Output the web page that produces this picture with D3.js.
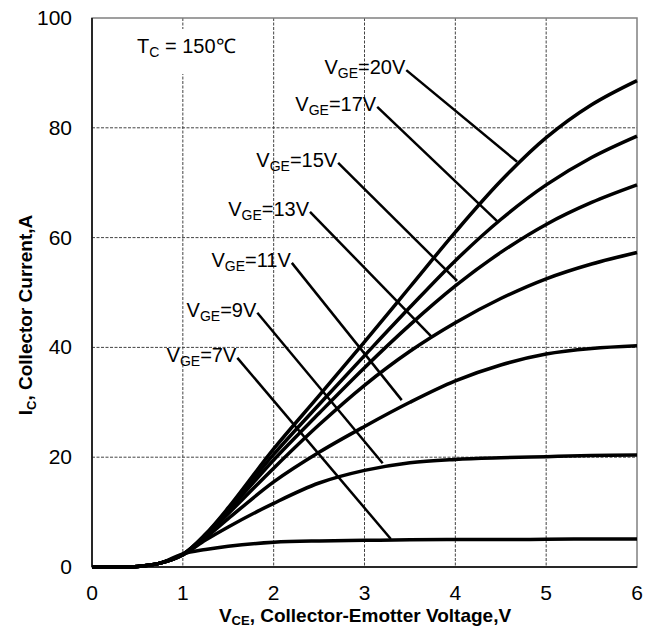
<!DOCTYPE html>
<html>
<head>
<meta charset="utf-8">
<script src="https://cdn.jsdelivr.net/npm/d3@7"></script>
<style>
  body { margin: 0; background: #fff; }
  text { font-family: "Liberation Sans", Arial, sans-serif; fill: #000; }
</style>
</head>
<body>
<svg id="chart" width="660" height="629"></svg>
<script>
// V_CE sample points (V)
var vce = [0, 0.25, 0.5, 0.75, 1, 1.25, 1.5, 2, 2.5, 3, 3.5, 4, 4.5, 5, 5.5, 6]

// I_C (A), one array per gate voltage
var ic20 = [0, 0, 0.1, 0.7, 2.3, 6.0, 10.8, 21.5, 31.2, 41, 51, 61, 70.3, 78.2, 84.2, 88.6]
var ic17 = [0, 0, 0.1, 0.7, 2.3, 5.9, 10.5, 20.5, 29.6, 38.5, 47.3, 55.8, 63.3, 69.6, 74.6, 78.5]
var ic15 = [0, 0, 0.1, 0.7, 2.3, 5.8, 10.2, 19.5, 28, 36.3, 44.1, 51.2, 57.3, 62.4, 66.4, 69.6]
var ic13 = [0, 0, 0.1, 0.7, 2.3, 5.6, 9.7, 18, 25.9, 33.1, 39.3, 44.5, 48.9, 52.5, 55.2, 57.3]
var ic11 = [0, 0, 0.1, 0.7, 2.2, 5.3, 8.8, 15.5, 20.9, 25.6, 30, 33.9, 36.8, 38.8, 39.8, 40.3]
var ic9  = [0, 0, 0.1, 0.7, 2.2, 4.9, 7.3, 11.6, 15.3, 17.6, 19.0, 19.6, 19.9, 20.1, 20.3, 20.4]
var ic7  = [0, 0, 0.1, 0.7, 2.4, 3.2, 3.8, 4.5, 4.75, 4.85, 4.95, 5.0, 5.0, 5.05, 5.1, 5.1]

var vgeLabels = ["20V", "17V", "15V", "13V", "11V", "9V", "7V"]
var seriesList = [ic20, ic17, ic15, ic13, ic11, ic9, ic7]

// leader lines: label end -> point on curve, in (V, A)
var leaderFrom = [[3.46, 90.5], [3.14, 83.8], [2.71, 73.6], [2.40, 64.7], [2.20, 55.4], [1.82, 46.3], [1.60, 38.1]]
var leaderTo   = [[4.68, 73.8], [4.46, 63.0], [4.02, 52.1], [3.74, 41.9], [3.41, 30.4], [3.20, 18.9], [3.29, 5.1]]

var xTicks = [0, 1, 2, 3, 4, 5, 6]
var yTicks = [0, 20, 40, 60, 80, 100]

var svg = d3.select("#chart")

var x = d3.scaleLinear()
    .domain([0, 6])
    .range([92, 637])

var y = d3.scaleLinear()
    .domain([0, 100])
    .range([567, 18])

// grid
svg.append("g")
    .selectAll("line")
    .data(xTicks.slice(1, -1))
    .enter()
    .append("line")
    .attr("x1", function(d){ return x(d) })
    .attr("x2", function(d){ return x(d) })
    .attr("y1", y(100))
    .attr("y2", y(0))
    .attr("stroke", "#444")
    .attr("stroke-width", 1)
    .attr("stroke-dasharray", "3,1.5")

svg.append("g")
    .selectAll("line")
    .data(yTicks.slice(1, -1))
    .enter()
    .append("line")
    .attr("x1", x(0))
    .attr("x2", x(6))
    .attr("y1", function(d){ return y(d) })
    .attr("y2", function(d){ return y(d) })
    .attr("stroke", "#444")
    .attr("stroke-width", 1)
    .attr("stroke-dasharray", "3,1.5")

// frame
svg.append("rect")
    .attr("x", x(0))
    .attr("y", y(100))
    .attr("width", x(6) - x(0))
    .attr("height", y(0) - y(100))
    .attr("fill", "none")
    .attr("stroke", "#808080")
    .attr("stroke-width", 1.5)

svg.append("line")
    .attr("x1", x(0)).attr("x2", x(0))
    .attr("y1", y(100)).attr("y2", y(0))
    .attr("stroke", "#000")
    .attr("stroke-width", 1.5)

svg.append("line")
    .attr("x1", x(0)).attr("x2", x(6))
    .attr("y1", y(0)).attr("y2", y(0))
    .attr("stroke", "#000")
    .attr("stroke-width", 1.5)

// tick labels
svg.append("g")
    .selectAll("text")
    .data(xTicks)
    .enter()
    .append("text")
    .attr("x", function(d){ return x(d) })
    .attr("y", 600)
    .attr("text-anchor", "middle")
    .attr("font-size", "21px")
    .text(function(d){ return d })

svg.append("g")
    .selectAll("text")
    .data(yTicks)
    .enter()
    .append("text")
    .attr("x", 72)
    .attr("y", function(d){ return y(d) + 7 })
    .attr("text-anchor", "end")
    .attr("font-size", "21px")
    .text(function(d){ return d })

// temperature note, with a white patch over the grid
svg.append("rect")
    .attr("x", 130)
    .attr("y", 29)
    .attr("width", 115)
    .attr("height", 45)
    .attr("fill", "#fff")

var tc = svg.append("text")
    .attr("x", 137)
    .attr("y", 53)
    .attr("font-size", "20px")
tc.append("tspan").text("T")
tc.append("tspan").attr("font-size", "14px").attr("dy", 4).text("C")
tc.append("tspan").attr("dy", -4).text(" = 150\u2103")

// curves
var line = d3.line()
    .x(function(d, i){ return x(vce[i]) })
    .y(function(d){ return y(d) })
    .curve(d3.curveCatmullRom.alpha(0.5))

svg.append("g")
    .selectAll("path")
    .data(seriesList)
    .enter()
    .append("path")
    .attr("d", line)
    .attr("fill", "none")
    .attr("stroke", "#000")
    .attr("stroke-width", 3.5)

// leaders
svg.append("g")
    .selectAll("line")
    .data(leaderFrom)
    .enter()
    .append("line")
    .attr("x1", function(d){ return x(d[0]) })
    .attr("y1", function(d){ return y(d[1]) })
    .attr("x2", function(d, i){ return x(leaderTo[i][0]) })
    .attr("y2", function(d, i){ return y(leaderTo[i][1]) })
    .attr("stroke", "#000")
    .attr("stroke-width", 2.5)

// labels
var labels = svg.append("g")
    .selectAll("text")
    .data(vgeLabels)
    .enter()
    .append("text")
    .attr("x", function(d, i){ return x(leaderFrom[i][0]) - 1 })
    .attr("y", function(d, i){ return y(leaderFrom[i][1]) + 4 })
    .attr("text-anchor", "end")
    .attr("font-size", "20px")

labels.append("tspan").text("V")
labels.append("tspan").attr("font-size", "14px").attr("dy", 4).text("GE")
labels.append("tspan").attr("dy", -4).text(function(d){ return "=" + d })

// axis titles
var xt = svg.append("text")
    .attr("x", 365)
    .attr("y", 622)
    .attr("text-anchor", "middle")
    .attr("font-size", "19px")
    .attr("font-weight", "bold")
xt.append("tspan").text("V")
xt.append("tspan").attr("font-size", "13px").attr("dy", 3).text("CE")
xt.append("tspan").attr("dy", -3).text(", Collector-Emotter Voltage,V")

var yt = svg.append("text")
    .attr("transform", "translate(32,315) rotate(-90)")
    .attr("text-anchor", "middle")
    .attr("font-size", "19px")
    .attr("font-weight", "bold")
yt.append("tspan").text("I")
yt.append("tspan").attr("font-size", "13px").attr("dy", 4).text("C")
yt.append("tspan").attr("dy", -4).text(", Collector Current,A")
</script>
</body>
</html>
